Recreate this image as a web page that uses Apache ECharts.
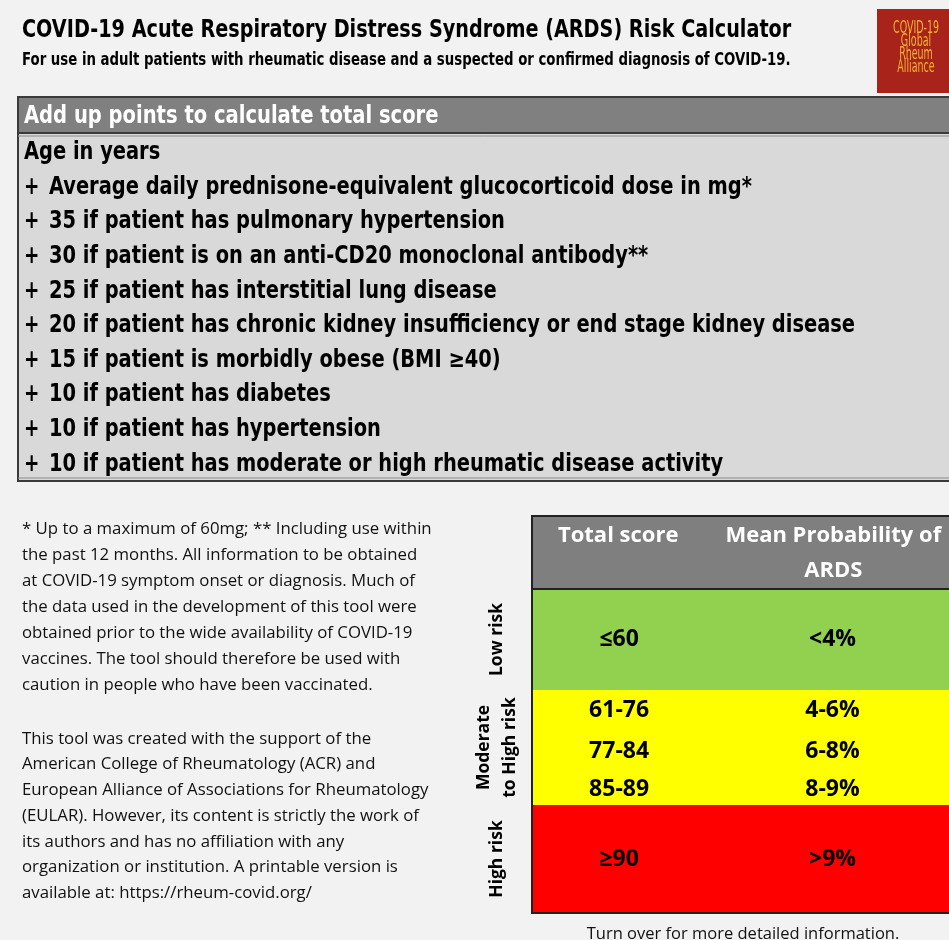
<!DOCTYPE html>
<html>
<head>
<meta charset="utf-8">
<script src="https://cdn.jsdelivr.net/npm/echarts@6/dist/echarts.min.js"></script>
<style>
  html, body { margin: 0; padding: 0; background: #f2f2f2; }
  #main { width: 949px; height: 940px; }
</style>
</head>
<body>
<div id="main"></div>
<script>
// score items (what to add up)
const scoreBase = ['Age in years', 'Average daily prednisone-equivalent glucocorticoid dose in mg*']
const pointValues = [35, 30, 25, 20, 15, 10, 10, 10]
const conditions = [
  'if patient has pulmonary hypertension',
  'if patient is on an anti-CD20 monoclonal antibody**',
  'if patient has interstitial lung disease',
  'if patient has chronic kidney insufficiency or end stage kidney disease',
  'if patient is morbidly obese (BMI \u226540)',
  'if patient has diabetes',
  'if patient has hypertension',
  'if patient has moderate or high rheumatic disease activity'
]

// risk table
const tableHeaders = ['Total score', 'Mean Probability of\nARDS']
const scoreRanges = ['\u226460', '61-76', '77-84', '85-89', '\u226590']
const probabilities = ['<4%', '4-6%', '6-8%', '8-9%', '>9%']
const riskGroupOfRow = [0, 1, 1, 1, 2]
const riskGroups = ['Low risk', 'Moderate\nto High risk', 'High risk']

const footnote1 = [
  '* Up to a maximum of 60mg; ** Including use within',
  'the past 12 months. All information to be obtained',
  'at COVID-19 symptom onset or diagnosis. Much of',
  'the data used in the development of this tool were',
  'obtained prior to the wide availability of COVID-19',
  'vaccines. The tool should therefore be used with',
  'caution in people who have been vaccinated.'
]
const footnote2 = [
  'This tool was created with the support of the',
  'American College of Rheumatology (ACR) and',
  'European Alliance of Associations for Rheumatology',
  '(EULAR). However, its content is strictly the work of',
  'its authors and has no affiliation with any',
  'organization or institution. A printable version is',
  'available at: https://rheum-covid.org/'
]

// layout / styles
const narrow = '"DejaVu Sans Condensed", "Liberation Sans Narrow", "Open Sans", sans-serif'
const sans = '"Open Sans", "Noto Sans", sans-serif'
const riskColors = ['#92d050', '#ffff00', '#ff0000']
const rowSpan = [101, 40, 43, 32, 108]
const colCenters = [0.207, 0.72]

const rowStarts = []
let acc = 0
rowSpan.forEach(s => { rowStarts.push(acc); acc += s })
const bodyHeight = acc

const chart = echarts.init(document.getElementById('main'), null, { renderer: 'canvas' })

const graphics = []

function narrowText (t, x, y, size, sx, fill) {
  return {
    type: 'text', x: x, y: y, scaleX: sx,
    style: { text: t, fontFamily: narrow, fontWeight: 'bold', fontSize: size, fill: fill || '#000', textVerticalAlign: 'middle' }
  }
}

// title area
graphics.push(narrowText('COVID-19 Acute Respiratory Distress Syndrome (ARDS) Risk Calculator', 22, 31, 24, 0.89))
graphics.push(narrowText('For use in adult patients with rheumatic disease and a suspected or confirmed diagnosis of COVID-19.', 22, 61, 17, 0.87))

// logo
graphics.push({ type: 'rect', shape: { x: 877, y: 9, width: 80, height: 84 }, style: { fill: '#a8231a' } })
;['COVID-19', 'Global', 'Rheum', 'Alliance'].forEach((t, i) => {
  graphics.push({
    type: 'text', x: 916, y: 29 + i * 13, scaleX: 0.62,
    style: { text: t, fontFamily: narrow, fontSize: 17, fill: '#f2b431', textAlign: 'center', textVerticalAlign: 'middle' }
  })
})

// points box
graphics.push({ type: 'rect', shape: { x: 18, y: 97, width: 950, height: 384 }, style: { fill: '#d9d9d9', stroke: '#3a3a3a', lineWidth: 2 } })
graphics.push({ type: 'rect', shape: { x: 19, y: 98, width: 950, height: 35 }, style: { fill: '#808080' } })
graphics.push({ type: 'line', shape: { x1: 18, y1: 133, x2: 949, y2: 133 }, style: { stroke: '#3a3a3a', lineWidth: 2 } })
graphics.push({ type: 'line', shape: { x1: 18, y1: 136, x2: 949, y2: 136 }, style: { stroke: '#8a8a8a', lineWidth: 1 } })
graphics.push({ type: 'line', shape: { x1: 18, y1: 478, x2: 949, y2: 478 }, style: { stroke: '#8a8a8a', lineWidth: 1 } })
graphics.push(narrowText('Add up points to calculate total score', 24, 117, 24, 0.905, '#fff'))

const listItems = [scoreBase[0], scoreBase[1]].concat(pointValues.map((v, i) => v + ' ' + conditions[i]))
listItems.forEach((t, i) => {
  const y = 153 + i * 34.6
  if (i > 0) graphics.push(narrowText('+', 24, y, 24, 0.85))
  graphics.push(narrowText(t, i === 0 ? 24 : 49, y, 24, 0.9))
})

// footnotes
footnote1.forEach((t, i) => {
  graphics.push({ type: 'text', x: 22, y: 529 + i * 26, style: { text: t, fontFamily: sans, fontSize: 16.8, fill: '#111', textVerticalAlign: 'middle' } })
})
footnote2.forEach((t, i) => {
  graphics.push({ type: 'text', x: 22, y: 739 + i * 25.7, style: { text: t, fontFamily: sans, fontSize: 16.8, fill: '#111', textVerticalAlign: 'middle' } })
})

// risk table header
graphics.push({ type: 'rect', shape: { x: 532, y: 516, width: 430, height: 73 }, style: { fill: '#7f7f7f', stroke: '#222', lineWidth: 2 } })
graphics.push({ type: 'text', x: 533 + 0.2 * 426, y: 536, style: { text: tableHeaders[0], fontFamily: sans, fontWeight: 'bold', fontSize: 22, fill: '#fff', textAlign: 'center', textVerticalAlign: 'middle' } })
graphics.push({ type: 'text', x: 533 + 0.705 * 426, y: 553, style: { text: tableHeaders[1], fontFamily: sans, fontWeight: 'bold', fontSize: 22, lineHeight: 35, fill: '#fff', textAlign: 'center', textVerticalAlign: 'middle' } })

graphics.push({
  type: 'text', x: 743, y: 934,
  style: { text: 'Turn over for more detailed information.', fontFamily: sans, fontSize: 16.5, fill: '#111', textAlign: 'center', textVerticalAlign: 'middle' }
})

const rowData = scoreRanges.map((s, i) => [i, rowStarts[i], rowStarts[i] + rowSpan[i]])

const option = {
  animation: false,
  backgroundColor: '#f2f2f2',
  grid: { left: 533, top: 589, width: 426, height: bodyHeight },
  xAxis: { type: 'value', min: 0, max: 1, show: false },
  yAxis: { type: 'value', min: 0, max: bodyHeight, inverse: true, show: false },
  graphic: graphics,
  series: [{
    type: 'custom',
    clip: false,
    data: rowData,
    encode: { x: -1, y: [1, 2] },
    renderItem: function (params, api) {
      const idx = api.value(0)
      const p0 = api.coord([0, api.value(1)])
      const p1 = api.coord([1, api.value(2)])
      const g = riskGroupOfRow[idx]
      const cy = (p0[1] + p1[1]) / 2
      const w = p1[0] - p0[0]
      const children = [
        { type: 'rect', shape: { x: p0[0], y: p0[1], width: w, height: p1[1] - p0[1] }, style: { fill: riskColors[g] } },
        { type: 'text', x: p0[0] + colCenters[0] * w, y: cy, style: { text: scoreRanges[idx], fontFamily: sans, fontWeight: 'bold', fontSize: 23, fill: '#000', textAlign: 'center', textVerticalAlign: 'middle' } },
        { type: 'text', x: p0[0] + colCenters[1] * w, y: cy, style: { text: probabilities[idx], fontFamily: sans, fontWeight: 'bold', fontSize: 23, fill: '#000', textAlign: 'center', textVerticalAlign: 'middle' } }
      ]
      // group label on the first row of each group
      if (riskGroupOfRow.indexOf(g) === idx) {
        const last = riskGroupOfRow.lastIndexOf(g)
        const gy0 = api.coord([0, rowStarts[idx]])[1]
        const gy1 = api.coord([0, rowStarts[last] + rowSpan[last]])[1]
        children.push({
          type: 'text', x: p0[0] - 36, y: (gy0 + gy1) / 2, rotation: Math.PI / 2,
          style: { text: riskGroups[g], fontFamily: sans, fontWeight: 'bold', fontSize: 17.5, lineHeight: 26, fill: '#000', textAlign: 'center', textVerticalAlign: 'middle' }
        })
      }
      if (idx === scoreRanges.length - 1) {
        const top = api.coord([0, 0])
        children.push({ type: 'rect', shape: { x: top[0] - 1, y: top[1], width: p1[0] - top[0] + 10, height: p1[1] - top[1] }, style: { fill: 'none', stroke: '#222', lineWidth: 2 } })
      }
      return { type: 'group', children: children }
    }
  }]
}

chart.setOption(option)
</script>
</body>
</html>
